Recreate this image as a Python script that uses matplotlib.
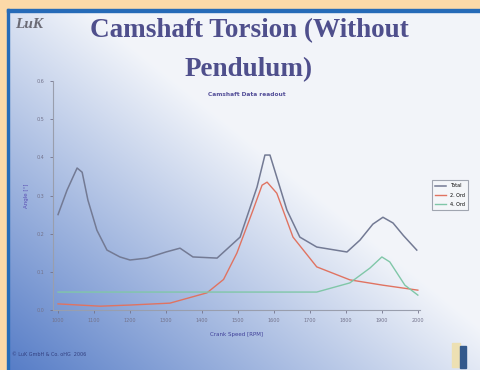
import numpy as np
import matplotlib
matplotlib.use("Agg")
import matplotlib.pyplot as plt
from matplotlib.patches import Rectangle

# Camshaft torsion vs. crank speed
speed_total = [1000, 1025, 1053, 1067, 1083, 1108, 1136, 1172, 1200, 1247, 1300, 1339,
               1375, 1442, 1506, 1553, 1575, 1589, 1608, 1636, 1672, 1719, 1803, 1839,
               1875, 1903, 1931, 1960, 1997]
total = [0.250, 0.314, 0.372, 0.361, 0.288, 0.209, 0.157, 0.139, 0.131, 0.136, 0.152, 0.162,
         0.139, 0.136, 0.191, 0.322, 0.406, 0.406, 0.348, 0.262, 0.191, 0.165, 0.152, 0.183,
         0.225, 0.243, 0.228, 0.195, 0.157]

speed_ord2 = [1000, 1117, 1200, 1311, 1414, 1460, 1497, 1542, 1567, 1581, 1608, 1653,
              1719, 1811, 1903, 2000]
ord2 = [0.016, 0.010, 0.013, 0.018, 0.045, 0.080, 0.149, 0.262, 0.327, 0.335, 0.306, 0.191,
        0.113, 0.079, 0.065, 0.052]

speed_ord4 = [1000, 1719, 1811, 1867, 1900, 1922, 1964, 2000]
ord4 = [0.047, 0.047, 0.071, 0.110, 0.139, 0.126, 0.065, 0.039]

x_ticks = [1000, 1100, 1200, 1300, 1400, 1500, 1600, 1700, 1800, 1900, 2000]
y_ticks = [0.0, 0.1, 0.2, 0.3, 0.4, 0.5, 0.6]
legend_labels = ["Total", "2. Ord", "4. Ord"]

W, H = 481, 370
fig = plt.figure(figsize=(W / 100, H / 100), dpi=100)

# slide background: orange frame, blue edge, diagonal blue-to-white gradient
bg = fig.add_axes([0, 0, 1, 1])
bg.set_xlim(0, W)
bg.set_ylim(H, 0)
bg.axis("off")
bg.add_patch(Rectangle((0, 0), W, H, color=(0.99, 0.85, 0.66), zorder=0))
yy, xx = np.mgrid[0:H, 0:W]
u = yy / H
v = xx / W
t = np.clip(0.15 + 0.85 * u - 0.9 * v, 0, 1)
white = np.array([0.95, 0.96, 0.98])
blue = np.array([0.34, 0.49, 0.78])
img = white[None, None, :] * (1 - t[..., None]) + blue[None, None, :] * t[..., None]
bg.imshow(img, extent=(9, W, H, 11), aspect="auto", zorder=1)
bg.add_patch(Rectangle((7, 9), 2.5, H, color=(0.15, 0.42, 0.72), zorder=2))
bg.add_patch(Rectangle((7, 9), W, 2.5, color=(0.15, 0.42, 0.72), zorder=2))

# small logos
bg.text(29, 25, "LuK", fontsize=11, fontstyle="italic", fontweight="bold",
        family="Liberation Serif", color=(0.42, 0.42, 0.46), ha="center", va="center", zorder=3)
bg.add_patch(Rectangle((452, 343), 8, 24, color=(0.93, 0.88, 0.7), zorder=3))
bg.add_patch(Rectangle((460, 346), 6, 22, color=(0.2, 0.35, 0.55), zorder=3))

# titles
title_color = (0.31, 0.31, 0.55)
bg.text(249, 31, "Camshaft Torsion (Without", fontsize=19.5, fontweight="bold",
        family="Liberation Serif", color=title_color, ha="center", va="center", zorder=3)
bg.text(249, 70, "Pendulum)", fontsize=19.5, fontweight="bold",
        family="Liberation Serif", color=title_color, ha="center", va="center", zorder=3)
bg.text(247, 95, "Camshaft Data readout", fontsize=4.2, fontweight="bold",
        color=(0.33, 0.31, 0.6), ha="center", va="center", zorder=3)
bg.text(12, 355, "© LuK GmbH & Co. oHG  2006", fontsize=3.5,
        color=(0.2, 0.25, 0.5), ha="left", va="center", zorder=3)

# chart
ax = fig.add_axes([53 / W, 1 - 310 / H, (420 - 53) / W, (310 - 81) / H])
ax.patch.set_alpha(0)
ax.plot(speed_total, total, color=(0.45, 0.48, 0.58), lw=1.1, label=legend_labels[0])
ax.plot(speed_ord2, ord2, color=(0.88, 0.45, 0.38), lw=1.0, label=legend_labels[1])
ax.plot(speed_ord4, ord4, color=(0.5, 0.78, 0.66), lw=1.0, label=legend_labels[2])
ax.set_xlim(986, 2006)
ax.set_ylim(0, 0.6)
ax.set_xticks(x_ticks)
ax.set_xticklabels([str(x) for x in x_ticks])
ax.set_yticks(y_ticks)
ax.set_yticklabels([f"{y:.1f}" for y in y_ticks])
ax.tick_params(labelsize=3.5, colors=(0.45, 0.45, 0.55), length=2, width=0.6, pad=4)
for s in ["top", "right"]:
    ax.spines[s].set_visible(False)
for s in ["left", "bottom"]:
    ax.spines[s].set_color((0.6, 0.62, 0.68))
    ax.spines[s].set_linewidth(0.8)
ax.set_xlabel("Crank Speed [RPM]", fontsize=4, color=(0.25, 0.25, 0.6), labelpad=6)
ax.set_ylabel("Angle [°]", fontsize=4, color=(0.35, 0.3, 0.7), labelpad=6)

leg = ax.legend(loc="upper left", bbox_to_anchor=(430 / W, 1 - 178 / H),
                bbox_transform=fig.transFigure, fontsize=3.5, frameon=True,
                fancybox=False, handlelength=2.2, borderpad=0.6, labelspacing=0.9)
leg.get_frame().set_edgecolor((0.55, 0.57, 0.62))
leg.get_frame().set_facecolor((0.96, 0.97, 0.98))
leg.get_frame().set_linewidth(0.8)

fig.savefig("out.png", dpi=100)
